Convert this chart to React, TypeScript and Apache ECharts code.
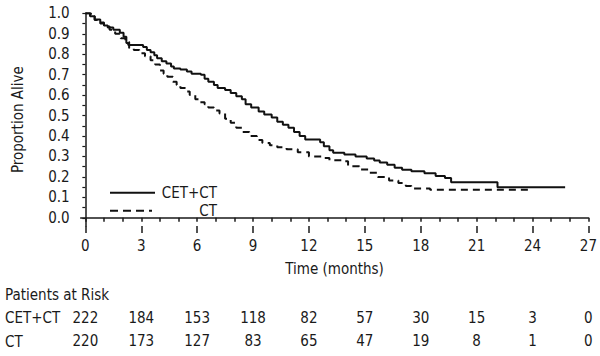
import React, { useEffect, useRef } from "react";
import * as echarts from "echarts";

// Kaplan-Meier step points: [time (months), proportion alive after the drop]
const cetCtCurve: [number, number][] = [
  [0, 1.0], [0.25, 0.985], [0.5, 0.97], [0.8, 0.955], [1.0, 0.94], [1.2, 0.93],
  [1.5, 0.92], [1.85, 0.905], [2.05, 0.885], [2.2, 0.855], [2.3, 0.845], [3.1, 0.835],
  [3.3, 0.82], [3.5, 0.81], [3.7, 0.795], [3.85, 0.78], [4.1, 0.765], [4.35, 0.755],
  [4.6, 0.74], [4.75, 0.73], [5.1, 0.725], [5.45, 0.715], [5.7, 0.705], [6.2, 0.7],
  [6.4, 0.68], [6.6, 0.665], [6.9, 0.65], [7.1, 0.635], [7.5, 0.625], [7.8, 0.61],
  [8.1, 0.595], [8.4, 0.58], [8.6, 0.555], [8.9, 0.54], [9.3, 0.52], [9.6, 0.505],
  [10.0, 0.49], [10.3, 0.47], [10.6, 0.455], [10.9, 0.44], [11.2, 0.42], [11.5, 0.4],
  [11.8, 0.383], [12.6, 0.37], [12.8, 0.35], [13.1, 0.33], [13.3, 0.318], [13.9, 0.31],
  [14.5, 0.3], [15.1, 0.29], [15.5, 0.28], [15.8, 0.27], [16.2, 0.26], [16.6, 0.245],
  [17.0, 0.235], [17.5, 0.228], [18.2, 0.218], [18.8, 0.205], [19.3, 0.195],
  [19.63, 0.174], [22.12, 0.149], [25.75, 0.149],
];

const ctCurve: [number, number][] = [
  [0, 1.0], [0.3, 0.985], [0.5, 0.967], [0.8, 0.95], [1.0, 0.935], [1.3, 0.92],
  [1.6, 0.9], [1.9, 0.878], [2.15, 0.86], [2.35, 0.83], [2.6, 0.82], [2.9, 0.805],
  [3.2, 0.79], [3.5, 0.77], [3.75, 0.75], [4.0, 0.72], [4.2, 0.705], [4.4, 0.69],
  [4.7, 0.665], [4.9, 0.65], [5.1, 0.635], [5.35, 0.618], [5.6, 0.6], [5.9, 0.58],
  [6.15, 0.565], [6.4, 0.555], [6.6, 0.54], [6.9, 0.525], [7.2, 0.51], [7.5, 0.485],
  [7.8, 0.465], [8.1, 0.44], [8.4, 0.42], [8.8, 0.4], [9.2, 0.38], [9.5, 0.366],
  [9.9, 0.355], [10.3, 0.345], [10.8, 0.335], [11.4, 0.32], [12.0, 0.3], [12.8, 0.293],
  [13.1, 0.281], [13.8, 0.276], [14.1, 0.252], [14.7, 0.236], [15.2, 0.22], [15.7, 0.2],
  [16.3, 0.183], [16.8, 0.17], [17.2, 0.155], [17.5, 0.143], [18.5, 0.137], [23.9, 0.137],
];

const timeTicks = [0, 3, 6, 9, 12, 15, 18, 21, 24, 27];
const timeMinorTicks = [
  0, 1, 2, 3, 4, 5, 6, 7, 8, 9, 10, 11, 12, 13, 14, 15, 16, 17, 18, 19, 20, 21, 22, 23, 24, 25, 26, 27,
];
const yTicks = [0, 0.1, 0.2, 0.3, 0.4, 0.5, 0.6, 0.7, 0.8, 0.9, 1.0];
const yMinorTicks = [
  0, 0.05, 0.1, 0.15, 0.2, 0.25, 0.3, 0.35, 0.4, 0.45, 0.5, 0.55, 0.6, 0.65, 0.7, 0.75, 0.8,
  0.85, 0.9, 0.95, 1.0,
];

const seriesNames = ["CET+CT", "CT"];
const riskCetCt = [222, 184, 153, 118, 82, 57, 30, 15, 3, 0];
const riskCt = [220, 173, 127, 83, 65, 47, 19, 8, 1, 0];
const riskTitle = "Patients at Risk";

const FONT = "'Liberation Sans Narrow', 'DejaVu Sans Condensed', sans-serif";
const FS = 15;
const INK = "#1a1a1a";

export default function App() {
  const ref = useRef<HTMLDivElement>(null);
  useEffect(() => {
    if (!ref.current) return;
    const chart = echarts.init(ref.current, undefined, { renderer: "svg" });
    const txt = { fontFamily: FONT, fontSize: FS, color: INK };
    const font = `${FS}px ${FONT}`;
    const xBase = { type: "value" as const, min: -0.25, max: 27, position: "bottom" as const, splitLine: { show: false } };
    const riskAxis = (vals: number[], offset: number) => ({
      ...xBase,
      offset,
      axisLine: { show: false },
      axisTick: { show: false },
      axisLabel: {
        ...txt,
        margin: 12,
        customValues: timeTicks,
        formatter: (v: number) => String(vals[timeTicks.indexOf(v)]),
      },
    });
    chart.setOption({
      animation: false,
      backgroundColor: "#ffffff",
      grid: { left: 80.7, top: 13.3, right: 10.6, bottom: 130 },
      xAxis: [
        {
          ...xBase,
          axisLine: { show: true, lineStyle: { color: INK, width: 1.5 } },
          axisTick: { show: true, customValues: timeMinorTicks, length: 4, lineStyle: { color: INK, width: 1.5 } },
          axisLabel: { ...txt, margin: 12, customValues: timeTicks },
          name: "Time (months)",
          nameLocation: "middle",
          nameGap: 35,
          nameTextStyle: { ...txt },
        },
        {
          ...xBase,
          axisLine: { show: false },
          axisTick: { show: true, customValues: timeTicks, length: 7, lineStyle: { color: INK, width: 1.5 } },
          axisLabel: { show: false },
        },
        riskAxis(riskCetCt, 72),
        riskAxis(riskCt, 95.5),
      ],
      yAxis: {
        type: "value",
        min: -0.04,
        max: 1,
        splitLine: { show: false },
        axisLine: { show: true, lineStyle: { color: INK, width: 1.5 } },
        axisTick: { show: true, customValues: yMinorTicks, length: 3, lineStyle: { color: INK, width: 1.2 } },
        axisLabel: { ...txt, margin: 11, customValues: yTicks, formatter: (v: number) => v.toFixed(1) },
        name: "Proportion Alive",
        nameLocation: "middle",
        nameGap: 55,
        nameRotate: 90,
        nameTextStyle: { ...txt },
      },
      series: [
        {
          name: seriesNames[0],
          type: "line",
          step: "end",
          showSymbol: false,
          data: cetCtCurve,
          lineStyle: { color: "#111", width: 2 },
        },
        {
          name: seriesNames[1],
          type: "line",
          step: "end",
          showSymbol: false,
          data: ctCurve,
          lineStyle: { color: "#111", width: 2, type: [7, 5] },
        },
      ],
      graphic: [
        { type: "line", shape: { x1: 110, y1: 192.7, x2: 155, y2: 192.7 }, style: { stroke: "#111", lineWidth: 2 } },
        { type: "line", shape: { x1: 110, y1: 210.7, x2: 152, y2: 210.7 }, style: { stroke: "#111", lineWidth: 2, lineDash: [8, 5] } },
        { type: "text", x: 217, y: 192.5, style: { text: seriesNames[0], font, fill: INK, align: "right", verticalAlign: "middle" } },
        { type: "text", x: 217, y: 211, style: { text: seriesNames[1], font, fill: INK, align: "right", verticalAlign: "middle" } },
        { type: "text", x: 5, y: 295, style: { text: riskTitle, font, fill: INK, align: "left", verticalAlign: "middle" } },
        { type: "text", x: 5, y: 318, style: { text: seriesNames[0], font, fill: INK, align: "left", verticalAlign: "middle" } },
        { type: "text", x: 5, y: 341.5, style: { text: seriesNames[1], font, fill: INK, align: "left", verticalAlign: "middle" } },
      ],
    });
    return () => chart.dispose();
  }, []);
  return (
    <div
      ref={ref}
      style={{ position: "fixed", left: 0, top: 0, width: 600, height: 356, background: "#fff" }}
    />
  );
}
